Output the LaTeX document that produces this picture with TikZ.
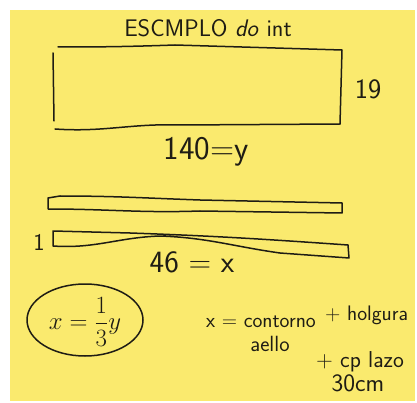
\documentclass[tikz,border=0pt]{standalone}
\usepackage{amsmath}
\usepackage{tikz}
\usetikzlibrary{calc}
\definecolor{notey}{RGB}{250,234,110}
\definecolor{ink}{RGB}{30,28,20}

\begin{document}
\begin{tikzpicture}[x=1pt, y=-1pt,
  pen/.style={draw=ink, line width=1.5pt, line cap=round, line join=round},
  hand/.style={text=ink, font=\sffamily\fontsize{#1}{#1}\selectfont, inner sep=0pt},
  hand/.default=20]
  % Sticky note on white
  \fill[white] (0,0) rectangle (417,403);
  \useasboundingbox (0,0) rectangle (417,403);
  \fill[notey] (10,10) rectangle (415,401);

  % Title
  \node[hand=24] (title) at (208,28) {ESCMPLO \textit{do} int};

  % Big panel y x 19
  \draw[pen] (53,53) -- (54,121);
  \draw[pen] (58,47) to[out=0,in=182] (175,45) -- (342,50) -- (340,124);
  \draw[pen] (55,129) to[out=-4,in=178] (180,125) -- (340,124);
  \node[hand=28] (height) at (368,89) {19};
  \node[hand=33] (length) at (206,152) {140=y};

  % Strips
  \draw[pen] (48,209) -- (48,198) -- (60,196) to[out=0,in=178] (200,200)
    -- (342,203) -- (342,213) -- (200,211) to[out=182,in=0] (48,209);
  \draw[pen] (53,246) -- (53,231) -- (130,233) to[out=-2,in=176] (348,245)
    -- (349,258) -- (280,253) to[out=172,in=-2] (160,236)
    to[out=182,in=-4] (53,246);
  \node[hand=24] (one) at (39,242) {1};
  \node[hand=31] (strip) at (192,262) {46 = x};

  % Circled result
  \draw[pen] (85,320) ellipse (58 and 36);
  \node[hand=26] (ratio) at (85,322) {$x=\dfrac{1}{3}y$};

  % Notes on x
  \node[hand=21, anchor=west] (contour) at (206,322) {x = contorno};
  \node[hand=21, anchor=west] (play) at (325,315) {+ holgura};
  \node[hand=22] (ring) at (270,344) {aello};
  \node[hand=23, anchor=west] (bow) at (316,362) {+ cp lazo};
  \node[hand=25] (cm) at (358,383) {30cm};
\end{tikzpicture}
\end{document}
